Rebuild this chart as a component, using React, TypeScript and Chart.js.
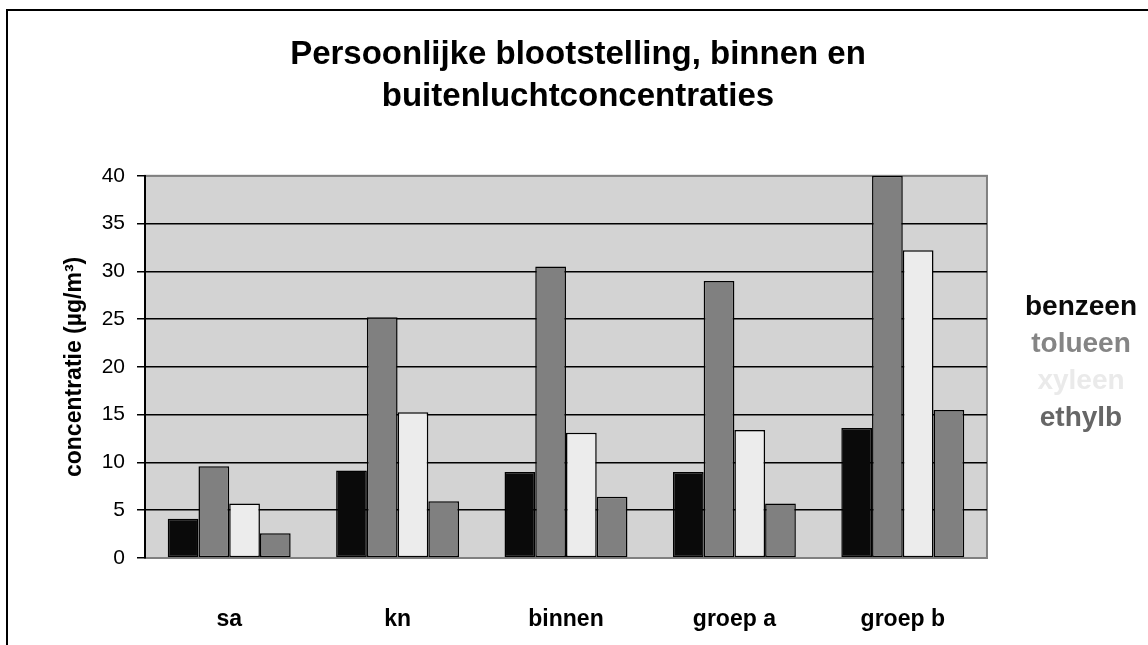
import React, { useEffect, useRef } from "react";
import { Chart, registerables } from "chart.js";

Chart.register(...registerables);

const categories = ["sa", "kn", "binnen", "groep a", "groep b"];
const seriesNames = ["benzeen", "tolueen", "xyleen", "ethylb"];
const benzeen = [4.1, 9.15, 9.0, 9.0, 13.6];
const tolueen = [9.6, 25.2, 30.5, 29.0, 40];
const xyleen = [5.7, 15.25, 13.1, 13.4, 32.2];
const ethylb = [2.6, 5.95, 6.4, 5.7, 15.5];
const seriesValues = [benzeen, tolueen, xyleen, ethylb];
const barColors = ["#0a0a0a", "#808080", "#ececec", "#808080"];
const legendTextColors = ["#0a0a0a", "#858585", "#eaeaea", "#666666"];
const yTicks = [0, 5, 10, 15, 20, 25, 30, 35, 40];

const FONT = "'Liberation Sans', Arial, sans-serif";

const framePlugin = {
  id: "frame",
  beforeDraw(chart: any) {
    const { ctx, chartArea } = chart;
    ctx.save();
    ctx.fillStyle = "#ffffff";
    ctx.fillRect(0, 0, chart.width, chart.height);
    ctx.fillStyle = "#d3d3d3";
    ctx.fillRect(chartArea.left, chartArea.top, chartArea.right - chartArea.left, chartArea.bottom - chartArea.top);
    ctx.strokeStyle = "#808080";
    ctx.lineWidth = 2;
    ctx.strokeRect(chartArea.left, chartArea.top, chartArea.right - chartArea.left, chartArea.bottom - chartArea.top);
    ctx.restore();
  },
  afterDraw(chart: any) {
    const { ctx } = chart;
    ctx.save();
    ctx.strokeStyle = "#000000";
    ctx.lineWidth = 2;
    ctx.strokeRect(7, 10, chart.width + 20, chart.height + 20);
    ctx.restore();
  },
};

export default function App() {
  const ref = useRef<HTMLCanvasElement | null>(null);

  useEffect(() => {
    document.body.style.margin = "0";
    const canvas = ref.current;
    if (!canvas) return;
    const chart = new Chart(canvas, {
      type: "bar",
      data: {
        labels: categories,
        datasets: seriesNames.map((name, i) => ({
          label: name,
          data: seriesValues[i],
          backgroundColor: barColors[i],
          borderColor: "#000000",
          borderWidth: 1.5,
          borderSkipped: false,
          categoryPercentage: 0.73,
          barPercentage: 1.0,
        })),
      },
      options: {
        responsive: false,
        animation: false,
        layout: { padding: { left: 14, right: 6, top: 0, bottom: 0 } },
        plugins: {
          tooltip: { enabled: false },
          title: {
            display: true,
            text: ["Persoonlijke blootstelling, binnen en", "buitenluchtconcentraties"],
            color: "#000000",
            font: { family: FONT, size: 33, weight: "bold", lineHeight: 1.27 },
            padding: { top: 34, bottom: 58 },
          },
          legend: {
            position: "right",
            align: "center",
            title: {
              display: true,
              text: "",
              font: { family: FONT, size: 10 },
              padding: { top: 0, bottom: 68 },
            },
            labels: {
              boxWidth: 10,
              boxHeight: 0,
              padding: 9,
              textAlign: "center",
              font: { family: FONT, size: 28, weight: "bold" },
              generateLabels: (c: any) =>
                c.data.datasets.map((ds: any, i: number) => ({
                  text: ds.label,
                  fillStyle: "rgba(0,0,0,0)",
                  strokeStyle: "rgba(0,0,0,0)",
                  lineWidth: 0,
                  fontColor: legendTextColors[i],
                  hidden: false,
                  datasetIndex: i,
                })),
            },
            onClick: () => {},
          },
        },
        scales: {
          x: {
            grid: { display: false, drawTicks: false },
            border: { display: true, color: "#808080", width: 2 },
            ticks: {
              color: "#000000",
              padding: 48,
              font: { family: FONT, size: 23, weight: "bold" },
              maxRotation: 0,
            },
            afterFit: (s: any) => {
              s.height = 87;
            },
          },
          y: {
            min: 0,
            max: 40,
            afterBuildTicks: (s: any) => {
              s.ticks = yTicks.map((v) => ({ value: v }));
            },
            grid: {
              color: (ctx: any) => (ctx.tick && (ctx.tick.value === 40 || ctx.tick.value === 0) ? "#808080" : "#000000"),
              tickColor: "#000000",
              lineWidth: 1.5,
              tickLength: 8,
            },
            border: { display: true, color: "#000000", width: 2 },
            ticks: {
              color: "#000000",
              padding: 12,
              font: { family: FONT, size: 21 },
            },
            title: {
              display: true,
              text: "concentratie (µg/m³)",
              color: "#000000",
              font: { family: FONT, size: 23, weight: "bold" },
              padding: { top: 47, bottom: 0 },
            },
            afterFit: (s: any) => {
              s.width = 131;
            },
          },
        },
      },
      plugins: [framePlugin],
    });
    return () => chart.destroy();
  }, []);

  return <canvas ref={ref} width={1148} height={645} style={{ display: "block" }} />;
}
